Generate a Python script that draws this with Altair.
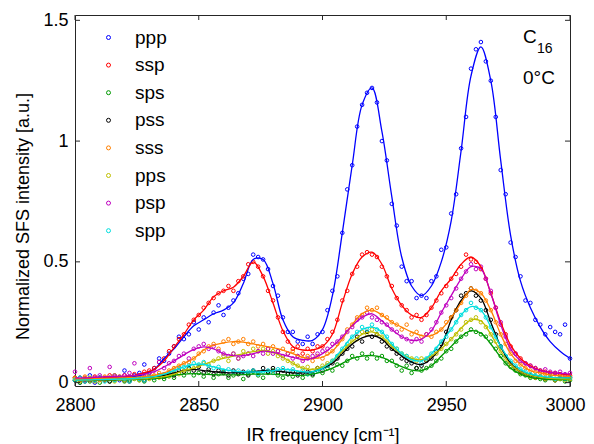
import altair as alt
import pandas as pd

series = ["ppp", "ssp", "sps", "pss", "sss", "pps", "psp", "spp"]
colors = ["#0000ff", "#ff0000", "#009900", "#000000", "#ff8000", "#bfbf00", "#bf00bf", "#00dede"]

x_ticks = [2800, 2850, 2900, 2950, 3000]
y_ticks = [0, 0.5, 1, 1.5]

# fitted curves, every 4 cm-1 from 2800 to 3000
x_fit = list(range(2800, 3001, 4))
fit_ppp = [0.010, 0.010, 0.012, 0.014, 0.016, 0.020, 0.025, 0.035, 0.055, 0.10,
           0.14, 0.19, 0.235, 0.26, 0.285, 0.30, 0.33, 0.41, 0.51, 0.51,
           0.41, 0.26, 0.19, 0.175, 0.175, 0.22, 0.36, 0.62, 0.90, 1.15,
           1.22, 1.04, 0.77, 0.52, 0.40, 0.36, 0.40, 0.50, 0.67, 0.96,
           1.27, 1.39, 1.25, 0.92, 0.61, 0.42, 0.31, 0.23, 0.17, 0.13,
           0.10]
fit_ssp = [0.015, 0.015, 0.017, 0.020, 0.022, 0.025, 0.030, 0.040, 0.055, 0.09,
           0.145, 0.20, 0.26, 0.30, 0.355, 0.38, 0.395, 0.44, 0.50, 0.44,
           0.33, 0.215, 0.15, 0.135, 0.135, 0.15, 0.20, 0.33, 0.45, 0.52,
           0.54, 0.49, 0.39, 0.32, 0.28, 0.27, 0.31, 0.38, 0.43, 0.49,
           0.52, 0.48, 0.37, 0.25, 0.155, 0.10, 0.07, 0.052, 0.042, 0.036,
           0.032]
fit_sps = [0.008, 0.008, 0.009, 0.010, 0.011, 0.012, 0.013, 0.015, 0.017, 0.020,
           0.030, 0.035, 0.037, 0.035, 0.033, 0.032, 0.032, 0.033, 0.035, 0.035,
           0.035, 0.032, 0.030, 0.030, 0.035, 0.045, 0.060, 0.080, 0.100, 0.110,
           0.112, 0.105, 0.085, 0.066, 0.052, 0.050, 0.070, 0.110, 0.150, 0.190,
           0.215, 0.205, 0.160, 0.105, 0.060, 0.035, 0.022, 0.016, 0.013, 0.012,
           0.012]
fit_pss = [0.010, 0.010, 0.011, 0.012, 0.013, 0.014, 0.016, 0.018, 0.022, 0.030,
           0.040, 0.050, 0.055, 0.050, 0.045, 0.042, 0.040, 0.042, 0.045, 0.050,
           0.050, 0.045, 0.040, 0.040, 0.045, 0.060, 0.080, 0.120, 0.160, 0.185,
           0.195, 0.180, 0.140, 0.110, 0.085, 0.075, 0.100, 0.150, 0.260, 0.340,
           0.380, 0.350, 0.250, 0.150, 0.080, 0.045, 0.030, 0.022, 0.020, 0.018,
           0.018]
fit_sss = [0.015, 0.015, 0.016, 0.017, 0.018, 0.020, 0.022, 0.025, 0.030, 0.040,
           0.060, 0.080, 0.100, 0.135, 0.155, 0.165, 0.170, 0.168, 0.160, 0.152,
           0.145, 0.135, 0.120, 0.105, 0.100, 0.105, 0.130, 0.180, 0.240, 0.285,
           0.300, 0.280, 0.250, 0.230, 0.210, 0.195, 0.195, 0.220, 0.270, 0.330,
           0.385, 0.370, 0.300, 0.200, 0.120, 0.075, 0.050, 0.040, 0.032, 0.028,
           0.025]
fit_pps = [0.010, 0.010, 0.011, 0.012, 0.013, 0.014, 0.015, 0.017, 0.020, 0.025,
           0.035, 0.050, 0.060, 0.075, 0.090, 0.100, 0.110, 0.120, 0.128, 0.133,
           0.125, 0.105, 0.080, 0.060, 0.055, 0.065, 0.090, 0.130, 0.170, 0.200,
           0.210, 0.190, 0.150, 0.120, 0.100, 0.095, 0.110, 0.140, 0.180, 0.225,
           0.260, 0.255, 0.200, 0.130, 0.075, 0.045, 0.030, 0.022, 0.018, 0.016,
           0.015]
fit_psp = [0.020, 0.020, 0.022, 0.025, 0.025, 0.027, 0.030, 0.035, 0.045, 0.065,
           0.090, 0.115, 0.138, 0.148, 0.140, 0.120, 0.112, 0.112, 0.120, 0.130,
           0.125, 0.115, 0.105, 0.095, 0.100, 0.120, 0.150, 0.190, 0.235, 0.270,
           0.285, 0.255, 0.220, 0.190, 0.175, 0.180, 0.215, 0.290, 0.360, 0.430,
           0.480, 0.470, 0.370, 0.240, 0.140, 0.090, 0.065, 0.050, 0.042, 0.038,
           0.035]
fit_spp = [0.010, 0.011, 0.012, 0.013, 0.014, 0.015, 0.017, 0.020, 0.025, 0.035,
           0.050, 0.065, 0.075, 0.075, 0.065, 0.055, 0.048, 0.045, 0.044, 0.045,
           0.050, 0.055, 0.052, 0.045, 0.045, 0.060, 0.090, 0.140, 0.190, 0.220,
           0.230, 0.210, 0.160, 0.120, 0.095, 0.090, 0.120, 0.170, 0.220, 0.280,
           0.315, 0.300, 0.230, 0.150, 0.090, 0.055, 0.035, 0.027, 0.022, 0.020,
           0.020]

# measured points, every 2 cm-1 from 2800 to 3000
x_meas = list(range(2800, 3001, 2))
meas_ppp = [.02, .00, .01, .03, .00, .02, .01, .02, .03, .01,
            .05, .02, .03, .04, .075, .04, .06, .10, .09, .12,
            .15, .19, .18, .20, .25, .22, .27, .25, .29, .32,
            .28, .31, .34, .37, .43, .45, .53, .52, .51, .47,
            .40, .36, .27, .21, .21, .17, .16, .19, .16, .20,
            .21, .30, .38, .44, .62, .80, .90, 1.06, 1.15, 1.20,
            1.22, 1.16, 1.00, .92, .74, .65, .48, .42, .42, .35,
            .36, .35, .42, .44, .55, .56, .70, .78, .97, 1.10,
            1.30, 1.38, 1.41, 1.33, 1.25, 1.10, .88, .78, .58, .52,
            .44, .34, .33, .26, .24, .20, .23, .21, .20, .24,
            .10]
meas_ssp = [.02, .01, .02, .01, .025, .015, .02, .03, .02, .025,
            .03, .02, .035, .03, .045, .05, .06, .085, .10, .13,
            .15, .18, .20, .24, .26, .28, .31, .33, .35, .37,
            .38, .40, .38, .42, .44, .49, .50, .48, .44, .38,
            .34, .27, .21, .17, .14, .15, .12, .14, .13, .15,
            .15, .18, .21, .26, .34, .38, .45, .48, .53, .54,
            .53, .52, .48, .44, .40, .35, .32, .30, .27, .28,
            .26, .28, .31, .34, .37, .40, .43, .45, .48, .53,
            .51, .50, .47, .43, .37, .31, .24, .20, .15, .12,
            .10, .08, .07, .06, .05, .045, .04, .04, .035, .03,
            .03]
meas_sps = [.01, .00, .015, .005, .01, .00, .015, .005, .01, .02,
            .005, .01, .02, .01, .005, .02, .01, .025, .015, .03,
            .02, .04, .03, .045, .03, .04, .025, .045, .02, .035,
            .045, .02, .03, .04, .015, .035, .045, .03, .02, .04,
            .05, .03, .02, .035, .025, .04, .02, .035, .03, .05,
            .04, .06, .05, .075, .07, .09, .11, .10, .12, .10,
            .12, .10, .11, .09, .09, .07, .05, .07, .04, .06,
            .05, .06, .07, .09, .10, .13, .14, .17, .19, .20,
            .22, .21, .20, .19, .17, .14, .11, .08, .065, .05,
            .035, .03, .02, .025, .015, .01, .02, .01, .015, .005,
            .01]
meas_pss = [.01, .02, .005, .015, .01, .02, .01, .005, .015, .02,
            .01, .005, .02, .015, .01, .025, .02, .03, .025, .04,
            .03, .05, .045, .06, .05, .065, .04, .055, .035, .05,
            .04, .03, .05, .035, .045, .03, .05, .04, .06, .045,
            .06, .04, .05, .035, .045, .03, .04, .045, .035, .06,
            .05, .07, .08, .10, .12, .14, .15, .19, .17, .21,
            .19, .20, .17, .15, .14, .12, .10, .09, .08, .06,
            .07, .09, .10, .13, .16, .21, .27, .30, .36, .37,
            .39, .36, .34, .30, .26, .20, .15, .11, .08, .06,
            .045, .035, .03, .02, .025, .015, .02, .01, .02, .015,
            .02]
meas_sss = [.02, .01, .025, .015, .02, .01, .025, .015, .03, .02,
            .015, .025, .02, .03, .025, .035, .03, .04, .035, .05,
            .06, .07, .08, .085, .10, .12, .13, .15, .16, .14,
            .17, .18, .16, .17, .18, .16, .17, .15, .16, .14,
            .15, .13, .14, .12, .13, .11, .10, .11, .09, .11,
            .10, .12, .13, .16, .18, .22, .24, .27, .28, .31,
            .30, .31, .28, .27, .25, .24, .22, .24, .20, .21,
            .19, .20, .19, .21, .22, .25, .27, .30, .33, .36,
            .39, .38, .37, .34, .30, .25, .20, .16, .12, .09,
            .075, .06, .05, .045, .04, .035, .03, .035, .025, .03,
            .025]
meas_pps = [.015, .005, .01, .02, .005, .015, .01, .02, .005, .015,
            .01, .02, .015, .01, .02, .015, .025, .02, .03, .025,
            .04, .035, .05, .055, .06, .07, .08, .075, .09, .10,
            .11, .09, .12, .10, .13, .12, .14, .13, .14, .12,
            .13, .11, .10, .09, .08, .07, .06, .065, .05, .06,
            .07, .08, .09, .11, .13, .15, .17, .18, .21, .20,
            .22, .20, .19, .17, .15, .14, .12, .11, .10, .09,
            .10, .095, .11, .12, .14, .16, .18, .20, .22, .25,
            .26, .27, .25, .23, .20, .17, .13, .10, .07, .055,
            .04, .035, .025, .02, .025, .015, .02, .01, .015, .01,
            .015]
meas_psp = [.045, .02, .01, .06, .02, .03, .015, .065, .025, .02,
            .03, .04, .08, .03, .035, .04, .05, .085, .06, .08,
            .09, .11, .12, .10, .14, .15, .16, .14, .15, .13,
            .12, .11, .12, .10, .11, .12, .11, .13, .12, .14,
            .12, .13, .11, .12, .10, .11, .09, .10, .11, .12,
            .13, .14, .16, .17, .19, .21, .23, .26, .27, .29,
            .27, .26, .25, .24, .22, .21, .19, .18, .17, .18,
            .17, .20, .22, .25, .29, .32, .35, .39, .43, .46,
            .49, .47, .48, .43, .38, .31, .25, .19, .14, .12,
            .09, .08, .07, .06, .05, .055, .045, .04, .045, .035,
            .04]
meas_spp = [.01, .02, .005, .015, .01, .02, .005, .015, .01, .02,
            .015, .005, .02, .015, .01, .025, .02, .03, .035, .04,
            .05, .06, .065, .07, .08, .075, .085, .07, .06, .065,
            .05, .055, .045, .05, .04, .045, .05, .035, .045, .05,
            .04, .055, .06, .05, .055, .04, .05, .035, .04, .05,
            .06, .07, .09, .11, .14, .16, .19, .21, .23, .22,
            .24, .22, .21, .19, .16, .14, .12, .11, .09, .10,
            .08, .10, .12, .14, .17, .19, .22, .25, .28, .30,
            .33, .31, .30, .27, .23, .19, .15, .11, .09, .07,
            .055, .045, .035, .03, .025, .02, .025, .015, .02, .015,
            .02]

fits = [fit_ppp, fit_ssp, fit_sps, fit_pss, fit_sss, fit_pps, fit_psp, fit_spp]
meas = [meas_ppp, meas_ssp, meas_sps, meas_pss, meas_sss, meas_pps, meas_psp, meas_spp]

rows_f, rows_m = [], []
for i, name in enumerate(series):
    for x, y in zip(x_fit, fits[i]):
        rows_f.append({"series": name, "x": x, "y": y, "k": i})
    for x, y in zip(x_meas, meas[i]):
        rows_m.append({"series": name, "x": x, "y": y, "k": i})
df_f = pd.DataFrame(rows_f)
df_m = pd.DataFrame(rows_m)

FONT = "Liberation Sans"
FRAME = "#262626"
W, H = 495, 371

xs = alt.Scale(domain=[2800, 3000], nice=False, zero=False)
ys = alt.Scale(domain=[-0.014, 1.522], nice=False, zero=False)
cs = alt.Scale(domain=series, range=colors)

x_axis = alt.Axis(values=x_ticks, format="d", labelPadding=10, labelFlush=False,
                  labelOverlap=False, title="IR frequency [cm\u207b\u00b9]",
                  labelOffset={"condition": {"test": "datum.value == 3000", "value": -5}, "value": 0},
                  titleY=54, titleBaseline="alphabetic")
y_axis = alt.Axis(values=y_ticks, format=".1~f", labelPadding=7, labelFlush=False,
                  labelOverlap=False, title="Normalized SFS intensity [a.u.]",
                  titleX=-46.5, titleY=201, titleBaseline="alphabetic")

X = alt.X("x:Q", scale=xs, axis=x_axis)
Y = alt.Y("y:Q", scale=ys, axis=y_axis)

points = alt.Chart(df_m).mark_point(
    shape="circle", filled=False, size=13, strokeWidth=1, opacity=1
).encode(
    x=X, y=Y,
    color=alt.Color("series:N", scale=cs, legend=alt.Legend(
        orient="none", legendX=24, legendY=13, title=None,
        labelFont=FONT, labelFontSize=19, labelColor="black",
        symbolType="circle", symbolSize=16, symbolStrokeWidth=1,
        rowPadding=7.6, labelOffset=17, padding=0)),
    order=alt.Order("k:Q"),
)

lines = alt.Chart(df_f).mark_line(strokeWidth=1.3, interpolate="catmull-rom").encode(
    x=X, y=Y,
    color=alt.Color("series:N", scale=cs, legend=None),
    detail="k:N",
)

xt = pd.DataFrame({"x": x_ticks})
yt = pd.DataFrame({"y": y_ticks})
tick_b = alt.Chart(xt).mark_rule(color=FRAME, strokeWidth=1).encode(
    x=X, y=alt.value(H), y2=alt.value(H - 5))
tick_t = alt.Chart(xt).mark_rule(color=FRAME, strokeWidth=1).encode(
    x=X, y=alt.value(0), y2=alt.value(5))
tick_l = alt.Chart(yt).mark_rule(color=FRAME, strokeWidth=1).encode(
    y=Y, x=alt.value(0), x2=alt.value(5))
tick_r = alt.Chart(yt).mark_rule(color=FRAME, strokeWidth=1).encode(
    y=Y, x=alt.value(W), x2=alt.value(W - 5))

ann = pd.DataFrame({"t": ["C"]})
txt_c = alt.Chart(ann).mark_text(font=FONT, fontSize=19, align="left", baseline="alphabetic",
                                 color="black").encode(
    text=alt.value("C"), x=alt.value(448), y=alt.value(28))
txt_16 = alt.Chart(ann).mark_text(font=FONT, fontSize=14, align="left", baseline="alphabetic",
                                  color="black").encode(
    text=alt.value("16"), x=alt.value(462), y=alt.value(38))
txt_t = alt.Chart(ann).mark_text(font=FONT, fontSize=19, align="left", baseline="alphabetic",
                                 color="black").encode(
    text=alt.value("0\u00b0C"), x=alt.value(448), y=alt.value(69))

chart = alt.layer(points, lines, tick_b, tick_t, tick_l, tick_r, txt_c, txt_16, txt_t).resolve_legend(
    color="independent"
).properties(
    width=W, height=H,
    autosize=alt.AutoSizeParams(type="none"),
    padding={"left": 67, "top": 7, "right": 16, "bottom": 58},
).configure_view(
    stroke=FRAME, strokeWidth=1
).configure_axis(
    grid=False, domain=False, ticks=False,
    labelFont=FONT, labelFontSize=18, labelColor="black",
    titleFont=FONT, titleFontSize=18, titleFontWeight="normal", titleColor="black",
)

chart.save("out.html", embed_options={"renderer": "svg", "actions": False})
